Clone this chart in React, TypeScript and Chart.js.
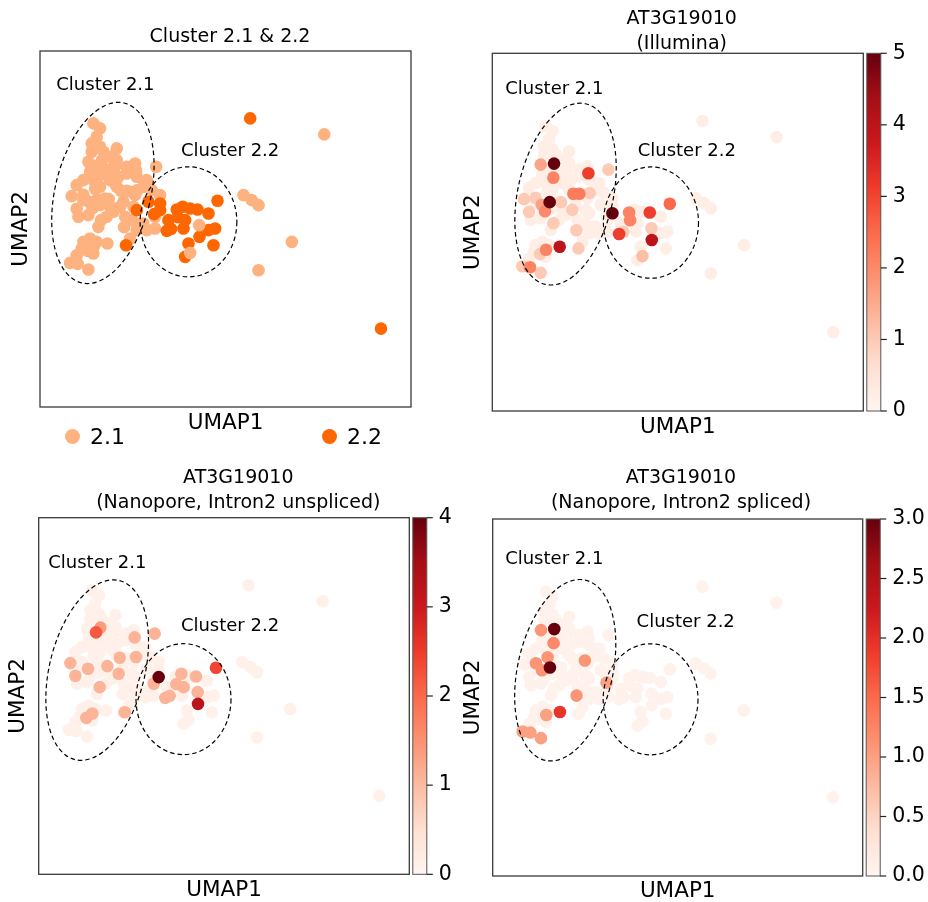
import React, { useEffect, useRef } from "react";
import { Chart, registerables } from "chart.js";

Chart.register(...registerables);

const FONT = '"DejaVu Sans", "Liberation Sans", sans-serif';

// ---------------- data ----------------
// UMAP coordinates of the cells (shared by all four panels)
const umap1 = [
  2.80, 3.00, 2.90, 3.00, 2.75, 3.10, 3.50, 3.30, 2.65, 3.05,
  3.50, 3.80, 4.05, 3.20, 2.70, 2.30, 2.15, 2.50, 2.85, 3.00,
  3.30, 3.55, 3.80, 4.10, 4.40, 2.92, 3.63, 3.81, 4.12, 4.30,
  2.68, 2.30, 3.00, 3.30, 3.70, 4.00, 2.35, 2.65, 3.03, 3.60,
  3.95, 4.10, 3.90, 4.68, 4.80, 4.65, 4.65, 4.40, 4.30, 2.70,
  2.50, 2.90, 3.22, 2.63, 2.30, 2.10, 2.33, 2.65, 2.80, 4.08,
  3.03, 2.78, 2.81, 3.45, 3.97, 3.72, 3.26, 3.50, 2.80, 2.50,
  3.20, 2.92, 7.30, 7.55, 7.75, 8.75, 7.75, 9.72,
  2.75, 3.35, 3.45, 4.55, 3.15, 4.05, 3.40, 3.75, 4.10, 2.95, 2.45, 2.50,
  4.45, 4.80, 4.62, 4.80, 5.30, 5.48, 5.70, 5.92, 6.25, 6.52,
  5.05, 5.33, 5.55, 5.00, 5.50, 5.98, 6.25, 6.45, 6.40, 5.65,
  5.55, 4.10, 3.78, 7.50, 11.42, 5.13,
  5.97, 5.70,
];
const umap2 = [
  8.90, 8.75, 8.50, 8.20, 8.05, 8.05, 8.15, 7.90, 7.75, 7.78,
  7.80, 7.60, 7.70, 7.50, 7.45, 7.05, 6.72, 6.76, 6.94, 7.00,
  7.20, 7.30, 7.40, 7.30, 7.20, 6.63, 6.88, 6.88, 6.90, 7.00,
  6.55, 6.34, 6.45, 6.40, 6.55, 6.40, 6.10, 6.15, 6.00, 6.40,
  6.00, 5.70, 5.45, 7.60, 6.75, 6.10, 5.75, 5.70, 5.90, 5.45,
  5.35, 5.35, 5.30, 5.08, 4.95, 4.72, 4.69, 4.52, 5.00, 7.49,
  7.36, 6.36, 5.21, 7.60, 6.84, 5.79, 6.63, 7.00, 7.20, 6.60,
  6.10, 7.64, 6.75, 6.60, 6.45, 5.35, 4.50, 8.57,
  8.30, 7.55, 7.10, 6.90, 6.65, 6.75, 6.25, 6.10, 5.90, 5.80, 5.15, 7.20,
  6.55, 6.30, 6.18, 6.50, 6.32, 6.40, 6.35, 6.32, 6.20, 6.58,
  6.00, 6.09, 6.00, 5.68, 5.75, 5.50, 5.70, 5.75, 5.25, 5.30,
  4.90, 6.30, 5.25, 9.05, 2.75, 5.74,
  5.85, 5.02,
];
// cluster membership: 1 -> "2.1", 2 -> "2.2"
const clusterNames = ["2.1", "2.2"];
const clusterIdx = [
  1, 1, 1, 1, 1, 1, 1, 1, 1, 1,
  1, 1, 1, 1, 1, 1, 1, 1, 1, 1,
  1, 1, 1, 1, 1, 1, 1, 1, 1, 1,
  1, 1, 1, 1, 1, 1, 1, 1, 1, 1,
  1, 1, 1, 1, 1, 1, 1, 1, 1, 1,
  1, 1, 1, 1, 1, 1, 1, 1, 1, 1,
  1, 1, 1, 1, 1, 1, 1, 1, 1, 1,
  1, 1, 1, 1, 1, 1, 1, 1,
  1, 1, 1, 1, 1, 1, 1, 1, 1, 1, 1, 1,
  2, 2, 2, 2, 2, 2, 2, 2, 2, 2,
  2, 2, 2, 2, 2, 2, 2, 2, 2, 2,
  2, 2, 2, 2, 2, 2,
  1, 1,
];
// AT3G19010 expression, Illumina
const illumina = [
  0.2, 0.2, 0.2, 0.2, 0.2, 0.2, 0.2, 0.2, 1.6, 5.0,
  0.2, 0.2, 0.2, 0.2, 0.2, 0.2, 1.0, 1.0, 0.2, 0.2,
  0.2, 0.2, 0.2, 0.2, 0.2, 5.0, 2.2, 2.2, 1.0, 0.2,
  1.6, 1.0, 0.2, 0.2, 0.2, 0.2, 0.2, 0.2, 1.0, 1.0,
  0.2, 0.2, 0.2, 1.0, 0.2, 0.2, 0.2, 0.2, 0.2, 0.2,
  0.2, 0.2, 4.0, 1.0, 0.2, 1.0, 2.1, 1.0, 0.2, 3.1,
  2.1, 2.0, 2.1, 0.2, 0.2, 1.0, 1.0, 0.2, 0.2, 0.2,
  0.2, 0.2, 0.2, 0.2, 0.2, 0.2, 0.2, 0.2,
  0.2, 0.2, 0.2, 0.2, 0.2, 0.2, 0.2, 0.2, 0.2, 0.2, 0.2, 0.2,
  0.2, 5.0, 0.2, 0.2, 2.1, 0.2, 0.2, 3.1, 0.2, 2.5,
  0.2, 2.1, 0.2, 3.1, 0.2, 4.0, 0.2, 0.2, 0.2, 0.2,
  0.2, 0.2, 1.0, 0.2, 0.2, 1.0,
  1.0, 1.2,
];
// Nanopore, Intron2 unspliced
const unspliced = [
  0.1, 0.1, 0.1, 0.1, 0.1, 0.1, 0.1, 0.1, 0.1, 1.4,
  0.1, 0.1, 0.1, 0.1, 0.1, 0.1, 1.1, 0.1, 0.1, 0.1,
  0.1, 0.1, 0.1, 0.1, 0.1, 0.1, 1.1, 0.1, 1.1, 0.1,
  1.1, 1.1, 0.1, 0.1, 0.1, 0.1, 0.1, 0.1, 1.1, 1.1,
  0.1, 0.1, 0.1, 1.1, 0.1, 1.1, 0.1, 0.1, 0.1, 0.1,
  0.1, 0.1, 0.1, 1.1, 0.1, 0.1, 0.1, 0.1, 0.1, 1.1,
  0.1, 0.1, 1.1, 0.1, 0.1, 0.1, 1.1, 0.1, 0.1, 0.1,
  0.1, 2.2, 0.1, 0.1, 0.1, 0.1, 0.1, 0.1,
  0.1, 0.1, 0.1, 0.1, 0.1, 0.1, 0.1, 0.1, 0.1, 0.1, 0.1, 0.1,
  0.1, 4.0, 0.1, 0.1, 0.1, 1.1, 0.1, 1.1, 0.1, 2.4,
  0.1, 1.1, 1.1, 1.1, 0.1, 3.2, 0.1, 0.1, 0.1, 0.1,
  0.1, 0.1, 1.1, 0.1, 0.1, 1.1,
  1.1, 0.1,
];
// Nanopore, Intron2 spliced
const spliced = [
  0.05, 0.05, 0.05, 0.05, 0.05, 0.05, 0.05, 0.05, 1.1, 3.0,
  0.05, 0.05, 0.05, 0.05, 0.05, 0.05, 0.05, 1.1, 1.1, 0.05,
  0.05, 0.05, 0.05, 0.05, 0.05, 3.0, 0.05, 0.05, 0.05, 0.05,
  1.1, 0.05, 0.05, 0.05, 0.05, 0.05, 0.05, 0.05, 0.05, 0.05,
  0.05, 0.05, 0.05, 0.05, 0.05, 0.05, 0.05, 0.05, 0.05, 0.05,
  0.05, 0.05, 1.95, 0.05, 0.05, 1.0, 1.0, 1.0, 0.05, 0.05,
  1.2, 0.05, 1.0, 0.05, 1.1, 1.1, 0.05, 0.05, 0.05, 0.05,
  0.05, 0.05, 0.05, 0.05, 0.05, 0.05, 0.05, 0.05,
  0.05, 0.05, 0.05, 0.05, 0.05, 0.05, 0.05, 0.05, 0.05, 0.05, 0.05, 0.05,
  0.05, 0.05, 1.0, 0.05, 0.05, 0.05, 0.05, 0.05, 0.05, 0.05,
  0.05, 0.05, 0.05, 0.05, 0.05, 0.05, 0.05, 0.05, 0.05, 0.05,
  0.05, 0.05, 0.05, 0.05, 0.05, 0.05,
  0.05, 0.05,
];
// colour bar ranges / ticks
const illuminaMax = 5;
const unsplicedMax = 4;
const splicedMax = 3;
const illuminaStep = 1;
const unsplicedStep = 1;
const splicedStep = 0.5;

const X_MIN = 1.2, X_MAX = 12.32, Y_MIN = 0.4, Y_MAX = 11.07;

const C21 = "#fdb27f";
const C22 = "#fe6600";

const REDS = ["#fff5f0", "#fee0d2", "#fcbba1", "#fc9272", "#fb6a4a", "#ef3b2c", "#cb181d", "#a50f15", "#67000d"];
function hexRgb(h: string) {
  return [parseInt(h.slice(1, 3), 16), parseInt(h.slice(3, 5), 16), parseInt(h.slice(5, 7), 16)];
}
function reds(t: number) {
  const c = Math.min(1, Math.max(0, t)) * (REDS.length - 1);
  const i = Math.min(Math.floor(c), REDS.length - 2);
  const f = c - i;
  const a = hexRgb(REDS[i]), b = hexRgb(REDS[i + 1]);
  return `rgb(${Math.round(a[0] + (b[0] - a[0]) * f)},${Math.round(a[1] + (b[1] - a[1]) * f)},${Math.round(a[2] + (b[2] - a[2]) * f)})`;
}

type Ell = { cx: number; cy: number; rx: number; ry: number; rot: number };
type Lbl = { text: string; x: number; y: number };
type Spec = {
  key: string;
  left: number; top: number; width: number; height: number;
  pad: { left: number; right: number; top: number; bottom: number };
  yAxisW: number; xAxisH: number; rightW: number;
  title: string | string[]; titlePadBottom: number;
  values?: number[]; vmax?: number; step?: number; decimals?: number;
  ellipses: Ell[]; labels: Lbl[];
};

const SPECS: Spec[] = [
  {
    key: "p1", left: 0, top: 0, width: 460, height: 440,
    pad: { left: 8.7, right: 8.7, top: 25, bottom: 6.3 },
    yAxisW: 31.3, xAxisH: 26.7, rightW: 40.3,
    title: "Cluster 2.1 & 2.2", titlePadBottom: 1,
    ellipses: [
      { cx: 3.085, cy: 6.815, rx: 1.434, ry: 2.77, rot: 13.3 },
      { cx: 5.65, cy: 5.95, rx: 1.45, ry: 1.65, rot: 0 },
    ],
    labels: [
      { text: "Cluster 2.1", x: 3.16, y: 10.03 },
      { text: "Cluster 2.2", x: 6.9, y: 8.05 },
    ],
  },
  {
    key: "p2", left: 456, top: 0, width: 472, height: 446,
    pad: { left: 5, right: 25.6, top: 6.5, bottom: 7.7 },
    yAxisW: 31.3, xAxisH: 27.3, rightW: 39.1,
    title: ["AT3G19010", "(Illumina)"], titlePadBottom: -3.2,
    values: illumina, vmax: illuminaMax, step: illuminaStep, decimals: 0,
    ellipses: [
      { cx: 3.395, cy: 6.87, rx: 1.43, ry: 2.76, rot: 12.5 },
      { cx: 5.955, cy: 6.02, rx: 1.425, ry: 1.66, rot: 0 },
    ],
    labels: [
      { text: "Cluster 2.1", x: 3.06, y: 10.01 },
      { text: "Cluster 2.2", x: 7.03, y: 8.14 },
    ],
  },
  {
    key: "p3", left: 0, top: 450, width: 480, height: 452,
    pad: { left: 6, right: 9.4, top: 15.8, bottom: 1 },
    yAxisW: 32.7, xAxisH: 26.7, rightW: 61.3,
    title: ["AT3G19010", "(Nanopore, Intron2 unspliced)"], titlePadBottom: 1.9,
    values: unspliced, vmax: unsplicedMax, step: unsplicedStep, decimals: 0,
    ellipses: [
      { cx: 2.955, cy: 6.51, rx: 1.43, ry: 2.76, rot: 14 },
      { cx: 5.545, cy: 5.64, rx: 1.425, ry: 1.66, rot: 0 },
    ],
    labels: [
      { text: "Cluster 2.1", x: 2.96, y: 9.7 },
      { text: "Cluster 2.2", x: 6.94, y: 7.83 },
    ],
  },
  {
    key: "p4", left: 456, top: 450, width: 472, height: 452,
    pad: { left: 5, right: 27, top: 15.8, bottom: 0 },
    yAxisW: 31.7, xAxisH: 26, rightW: 38.3,
    title: ["AT3G19010", "(Nanopore, Intron2 spliced)"], titlePadBottom: 3.2,
    values: spliced, vmax: splicedMax, step: splicedStep, decimals: 1,
    ellipses: [
      { cx: 3.38, cy: 6.55, rx: 1.43, ry: 2.76, rot: 12.5 },
      { cx: 5.945, cy: 5.68, rx: 1.425, ry: 1.66, rot: 0 },
    ],
    labels: [
      { text: "Cluster 2.1", x: 3.05, y: 9.87 },
      { text: "Cluster 2.2", x: 7.0, y: 7.97 },
    ],
  },
];

const TICK_FONT_SIZE = 20.5;
const LABEL_GAP = 29.5; // distance from plot edge to left edge of colour-bar labels

function Panel({ spec }: { spec: Spec }) {
  const ref = useRef<HTMLCanvasElement>(null);
  useEffect(() => {
    const canvas = ref.current;
    if (!canvas) return;
    const n = umap1.length;
    const order = Array.from({ length: n }, (_, i) => i);
    const vals = spec.values;
    if (vals) order.sort((a, b) => vals[a] - vals[b]);
    const pts = order.map((i) => ({ x: umap1[i], y: umap2[i] }));
    const cols = order.map((i) =>
      vals ? reds(vals[i] / (spec.vmax as number)) : clusterNames[clusterIdx[i] - 1] === "2.1" ? C21 : C22
    );

    // width of the widest colour-bar label (labels are right-aligned when mirrored)
    let labelW = 0;
    if (vals) {
      const m = document.createElement("canvas").getContext("2d") as CanvasRenderingContext2D;
      m.font = `${TICK_FONT_SIZE}px ${FONT}`;
      const step = spec.step as number;
      for (let v = 0; v <= (spec.vmax as number) + 1e-9; v += step) {
        labelW = Math.max(labelW, m.measureText(v.toFixed(spec.decimals ?? 0)).width);
      }
    }

    const deco = {
      id: "deco" + spec.key,
      afterDatasetsDraw(chart: any) {
        const { ctx, chartArea: ca, scales } = chart;
        const x = scales.x, y = scales.y;
        ctx.save();
        ctx.beginPath();
        ctx.rect(ca.left, ca.top, ca.right - ca.left, ca.bottom - ca.top);
        ctx.clip();
        ctx.strokeStyle = "#000";
        ctx.lineWidth = 1.2;
        ctx.setLineDash([4.5, 3]);
        for (const e of spec.ellipses) {
          const cx = x.getPixelForValue(e.cx), cy = y.getPixelForValue(e.cy);
          const rx = Math.abs(x.getPixelForValue(e.cx + e.rx) - cx);
          const ry = Math.abs(y.getPixelForValue(e.cy + e.ry) - cy);
          ctx.beginPath();
          ctx.ellipse(cx, cy, rx, ry, (e.rot * Math.PI) / 180, 0, Math.PI * 2);
          ctx.stroke();
        }
        ctx.setLineDash([]);
        ctx.fillStyle = "#000";
        ctx.font = `18px ${FONT}`;
        ctx.textAlign = "center";
        ctx.textBaseline = "middle";
        for (const l of spec.labels) {
          ctx.fillText(l.text, x.getPixelForValue(l.x), y.getPixelForValue(l.y));
        }
        ctx.restore();
      },
      afterDraw(chart: any) {
        const { ctx, chartArea: ca, scales } = chart;
        ctx.save();
        if (spec.values) {
          const cb = scales.cb;
          const L = ca.right + 3.5, R = L + 14;
          const grad = ctx.createLinearGradient(0, ca.bottom, 0, ca.top);
          REDS.forEach((c, i) => grad.addColorStop(i / (REDS.length - 1), c));
          ctx.fillStyle = grad;
          ctx.fillRect(L, ca.top, R - L, ca.bottom - ca.top);
          ctx.strokeStyle = "#555";
          ctx.lineWidth = 1;
          ctx.strokeRect(L, ca.top, R - L, ca.bottom - ca.top);
          ctx.strokeStyle = "#222";
          ctx.lineWidth = 1.2;
          for (const t of cb.ticks) {
            const py = cb.getPixelForValue(t.value);
            ctx.beginPath();
            ctx.moveTo(R, py);
            ctx.lineTo(R + 6, py);
            ctx.stroke();
          }
        }
        ctx.strokeStyle = "#3a3a3a";
        ctx.lineWidth = 1.3;
        ctx.strokeRect(ca.left, ca.top, ca.right - ca.left, ca.bottom - ca.top);
        ctx.restore();
      },
    };

    const chart = new Chart(canvas, {
      type: "scatter",
      data: {
        datasets: [
          {
            data: pts,
            pointBackgroundColor: cols,
            pointBorderWidth: 0,
            borderWidth: 0,
            pointRadius: 6.3,
            pointHoverRadius: 6.3,
          } as any,
        ],
      },
      options: {
        animation: false,
        responsive: false,
        devicePixelRatio: 1,
        events: [],
        layout: { padding: spec.pad },
        plugins: {
          legend: { display: false },
          tooltip: { enabled: false },
          title: {
            display: true,
            text: spec.title,
            color: "#000",
            fullSize: true,
            font: { family: FONT, size: 19, weight: "normal", lineHeight: 25 / 19 },
            padding: { top: 0, bottom: spec.titlePadBottom },
          },
        },
        scales: {
          x: {
            type: "linear",
            min: X_MIN,
            max: X_MAX,
            grid: { display: false, drawTicks: false },
            border: { display: false },
            ticks: { display: false },
            title: {
              display: true,
              text: "UMAP1",
              color: "#000",
              font: { family: FONT, size: 21.5, lineHeight: 1 },
              padding: { top: 0, bottom: 0 },
            },
            afterFit: (s: any) => { s.height = spec.xAxisH; },
          },
          y: {
            type: "linear",
            min: Y_MIN,
            max: Y_MAX,
            grid: { display: false, drawTicks: false },
            border: { display: false },
            ticks: { display: false },
            title: {
              display: true,
              text: "UMAP2",
              color: "#000",
              font: { family: FONT, size: 21.5, lineHeight: 1 },
              padding: { top: 2, bottom: 0 },
            },
            afterFit: (s: any) => { s.width = spec.yAxisW; },
          },
          cb: {
            type: "linear",
            position: "right",
            display: true,
            min: 0,
            max: spec.vmax ?? 1,
            grid: { display: false, drawTicks: false },
            border: { display: false },
            ticks: {
              display: !!spec.values,
              stepSize: spec.step ?? 1,
              color: "#000",
              font: { family: FONT, size: TICK_FONT_SIZE },
              mirror: true,
              crossAlign: "near",
              padding: LABEL_GAP + labelW,
              autoSkip: false,
              callback: (v: any) => Number(v).toFixed(spec.decimals ?? 0),
            },
            afterFit: (s: any) => {
              s.width = spec.rightW;
              s.paddingTop = 0;
              s.paddingBottom = 0;
            },
          },
        } as any,
      },
      plugins: [deco],
    });
    return () => chart.destroy();
  }, [spec]);
  return (
    <canvas
      ref={ref}
      width={spec.width}
      height={spec.height}
      style={{ position: "absolute", left: spec.left, top: spec.top, width: spec.width, height: spec.height }}
    />
  );
}

export default function App() {
  const legendText: React.CSSProperties = {
    position: "absolute",
    top: 424.4,
    font: `22px ${FONT}`,
    lineHeight: "26px",
    color: "#000",
    whiteSpace: "nowrap",
  };
  const dot = (cx: number, color: string): React.CSSProperties => ({
    position: "absolute",
    left: cx - 7.5,
    top: 436.7 - 7.5,
    width: 15,
    height: 15,
    borderRadius: "50%",
    background: color,
  });
  return (
    <div style={{ position: "absolute", left: 0, top: 0, width: 928, height: 902, background: "#fff", overflow: "hidden" }}>
      {SPECS.map((s) => (
        <Panel key={s.key} spec={s} />
      ))}
      <div style={dot(72.7, C21)} />
      <div style={{ ...legendText, left: 90 }}>{clusterNames[0]}</div>
      <div style={dot(329.3, C22)} />
      <div style={{ ...legendText, left: 347 }}>{clusterNames[1]}</div>
    </div>
  );
}
